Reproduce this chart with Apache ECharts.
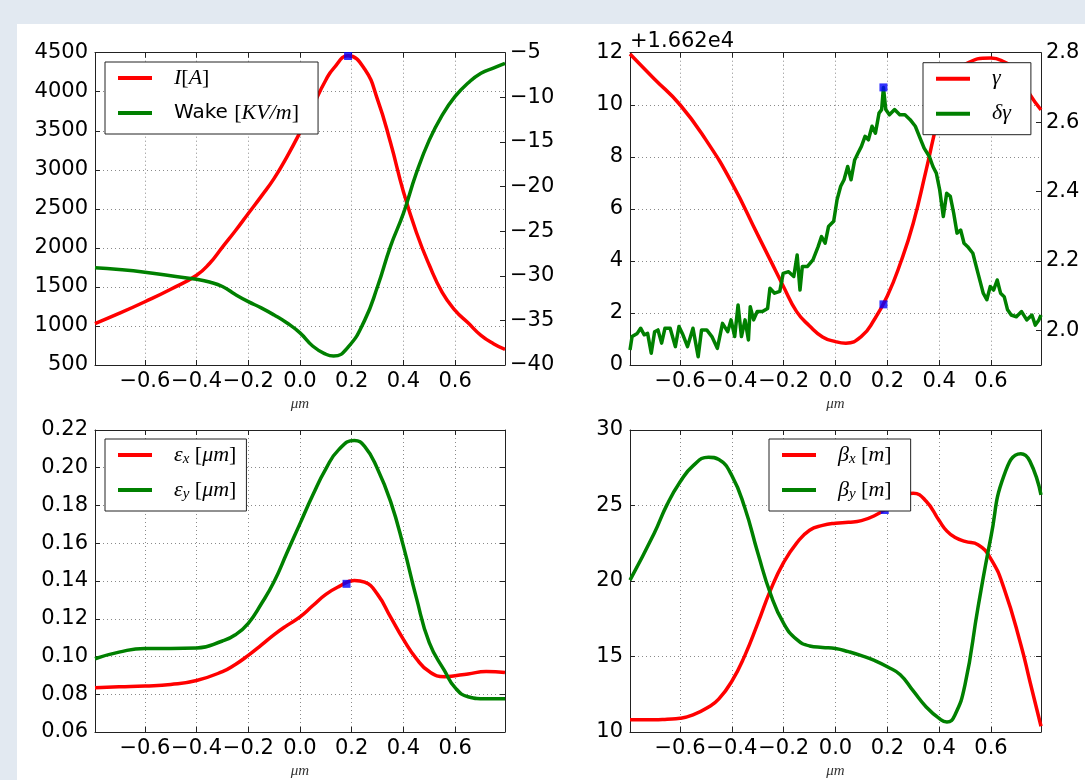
<!DOCTYPE html>
<html><head><meta charset="utf-8">
<script src="https://cdn.jsdelivr.net/npm/echarts@6/dist/echarts.min.js"></script>
<style>
html,body{margin:0;padding:0;background:#e2e9f1;width:1085px;height:780px;overflow:hidden}
#c{position:absolute;left:17px;top:24px;width:1068px;height:756px;background:#fff}
</style></head><body><div id="c"></div>
<script>
// ---------- data ----------
const xTickValues = [-0.6, -0.4, -0.2, 0, 0.2, 0.4, 0.6];
const xRange = [-0.793, 0.793];

// top-left: current & wake
const tlX = [-0.793,-0.7,-0.6,-0.5,-0.4,-0.35,-0.3,-0.25,-0.2,-0.15,-0.1,-0.05,0,0.05,0.1,0.13,0.186,0.25,0.3,0.35,0.4,0.45,0.5,0.55,0.6,0.65,0.7,0.75,0.793];
const currentA = [1030,1160,1310,1470,1650,1800,2010,2220,2440,2660,2890,3170,3480,3820,4150,4300,4460,4290,3900,3350,2720,2200,1780,1430,1200,1040,880,770,700];
const wakeKVm = [-29.1,-29.3,-29.6,-30.0,-30.4,-30.7,-31.2,-32.1,-32.9,-33.6,-34.4,-35.3,-36.4,-37.9,-38.8,-39.0,-38.0,-35.0,-31.2,-26.7,-23.0,-18.5,-14.8,-12.0,-9.9,-8.4,-7.3,-6.7,-6.2];
const tlMarker = [0.186, 4458];

// top-right: gamma (offset from 1.662e4) & delta gamma
const trX = [-0.793,-0.7,-0.6,-0.5,-0.4,-0.3,-0.25,-0.2,-0.15,-0.1,-0.05,0,0.04,0.1,0.15,0.2,0.25,0.3,0.35,0.4,0.45,0.5,0.6,0.65,0.7,0.75,0.793];
const gammaOffset = [11.95,11.0,10.0,8.65,7.0,5.0,4.0,3.0,2.05,1.5,1.08,0.9,0.84,1.1,1.75,2.65,3.9,5.45,7.5,9.6,11.0,11.55,11.8,11.65,11.3,10.4,9.8];
const dgX = [-0.793,-0.785,-0.765,-0.752,-0.738,-0.725,-0.711,-0.698,-0.685,-0.671,
 -0.658,-0.638,-0.618,-0.604,-0.591,-0.571,-0.550,-0.530,-0.517,-0.497,
 -0.477,-0.456,-0.436,-0.416,-0.403,-0.389,-0.376,-0.363,-0.349,-0.336,
 -0.329,-0.316,-0.302,-0.282,-0.262,-0.253,-0.235,-0.215,-0.202,-0.181,
 -0.161,-0.148,-0.137,-0.128,-0.108,-0.087,-0.067,-0.054,-0.040,-0.027,
 -0.007,0.006,0.020,0.033,0.047,0.060,0.074,0.087,0.100,0.114,
 0.127,0.141,0.154,0.168,0.178,0.185,0.194,0.208,0.228,0.248,
 0.268,0.288,0.308,0.329,0.342,0.362,0.376,0.389,0.402,0.416,
 0.429,0.443,0.456,0.469,0.483,0.496,0.510,0.530,0.550,0.570,
 0.584,0.597,0.610,0.624,0.637,0.651,0.664,0.678,0.698,0.718,
 0.738,0.758,0.771,0.785,0.793];
const deltaGamma = [1.943,1.982,1.991,2.006,1.987,1.991,1.934,1.996,2.001,1.963,
 2.006,2.006,1.953,2.011,1.991,1.953,2.006,1.924,2.001,2.001,
 1.982,1.948,2.020,1.996,2.030,1.982,2.073,1.982,2.030,1.972,
 2.068,2.030,2.054,2.054,2.063,2.121,2.107,2.112,2.164,2.169,
 2.155,2.217,2.116,2.184,2.184,2.203,2.241,2.270,2.251,2.299,
 2.314,2.376,2.415,2.434,2.472,2.434,2.491,2.511,2.530,2.559,
 2.549,2.588,2.568,2.626,2.636,2.700,2.636,2.621,2.636,2.621,
 2.621,2.607,2.588,2.549,2.525,2.501,2.472,2.453,2.405,2.328,
 2.395,2.386,2.338,2.280,2.289,2.251,2.241,2.222,2.164,2.107,
 2.088,2.126,2.116,2.145,2.107,2.097,2.059,2.044,2.039,2.054,
 2.030,2.044,2.015,2.030,2.044];
const trMarkerGamma = [0.185, 2.33];
const trMarkerDg = [0.185, 2.70];
const dgTickValues = [2.0, 2.2, 2.4, 2.6, 2.8];

// bottom-left: emittances
const blX = [-0.793,-0.7,-0.6,-0.5,-0.4,-0.3,-0.25,-0.2,-0.15,-0.1,-0.05,0,0.05,0.1,0.15,0.21,0.25,0.3,0.35,0.4,0.45,0.5,0.56,0.6,0.65,0.72,0.793];
const epsX = [0.0835,0.084,0.0844,0.0852,0.0873,0.092,0.0958,0.1006,0.106,0.1116,0.1165,0.121,0.127,0.1329,0.1370,0.1403,0.1394,0.1329,0.121,0.1091,0.0989,0.092,0.0893,0.0898,0.0907,0.0921,0.0915];
const epsY = [0.0988,0.1023,0.1043,0.1043,0.1045,0.1082,0.1115,0.1176,0.1278,0.1397,0.1551,0.1704,0.1857,0.1994,0.2096,0.2145,0.2113,0.1994,0.1823,0.1585,0.1312,0.1074,0.0922,0.0835,0.0787,0.0776,0.0776];
const blMarker = [0.18, 0.1385];

// bottom-right: beta functions
const brX = [-0.793,-0.7,-0.65,-0.6,-0.55,-0.49,-0.45,-0.4,-0.35,-0.3,-0.25,-0.2,-0.15,-0.1,-0.05,0,0.05,0.1,0.15,0.2,0.25,0.3,0.35,0.4,0.43,0.46,0.5,0.55,0.6,0.65,0.715,0.75,0.793];
const betaX = [10.81,10.81,10.85,10.91,11.13,11.65,12.19,13.36,15.06,17.19,19.43,21.23,22.51,23.36,23.68,23.83,23.89,24.0,24.32,24.85,25.6,25.81,25.28,24.0,23.3,22.9,22.62,22.4,21.45,19.53,15.8,13.36,10.38];
const betaY = [20.06,23.15,25.06,26.55,27.62,28.2,28.04,26.98,24.85,21.87,19.11,17.19,16.13,15.7,15.6,15.53,15.32,15.06,14.74,14.32,13.79,12.72,11.66,10.9,10.66,11.1,13.15,18.26,22.94,26.98,28.43,27.94,25.7];
const brMarker = [0.19, 24.7];

// ---------- styling ----------
const FONT = 'DejaVu Sans';
const RED = '#ff0000', GREEN = '#008000', BLUE = '#0000ff';
const AX = '#222';
const minus = s => String(s).replace(/-/g, '\u2212');

const RICH = {
  sp: {width: 17, fontSize: 10, lineHeight: 24},
  t: {fontFamily: FONT, fontSize: 20, color: '#000', lineHeight: 24},
  m: {fontFamily: 'Liberation Serif', fontStyle: 'italic', fontSize: 22, color: '#000', lineHeight: 24},
  r: {fontFamily: 'Liberation Serif', fontSize: 22, color: '#000', lineHeight: 24},
  sub: {fontFamily: 'Liberation Serif', fontStyle: 'italic', fontSize: 15, color: '#000', lineHeight: 14, verticalAlign: 'bottom'}
};
const LABELS = {
  'I': '{sp| }{m|I}{r|[}{m|A}{r|]}',
  'Wake': '{sp| }{t|Wake }{r|[}{m|KV/m}{r|]}',
  'gamma': '{sp| }{m|γ}',
  'dgamma': '{sp| }{m|δγ}',
  'ex': '{sp| }{m|ε}{sub|x}{r| [}{m|μm}{r|]}',
  'ey': '{sp| }{m|ε}{sub|y}{r| [}{m|μm}{r|]}',
  'bx': '{sp| }{m|β}{sub|x}{r| [}{m|m}{r|]}',
  'by': '{sp| }{m|β}{sub|y}{r| [}{m|m}{r|]}'
};

const grids = [
  {left: 78, top: 28.7, width: 410, height: 312.3},
  {left: 613, top: 28.7, width: 411, height: 312.3},
  {left: 78, top: 406, width: 410, height: 313},
  {left: 613, top: 406, width: 411, height: 313}
];

const labelStyle = {fontFamily: FONT, fontSize: 21, color: '#000'};
const axLine = {show: true, onZero: false, lineStyle: {color: AX, width: 1}};
const tick = extra => Object.assign({show: true, inside: true, length: 5, lineStyle: {color: AX, width: 1}}, extra || {});
const grid_split = {show: true, lineStyle: {color: '#8a8a8a', type: [1, 3], width: 1}};

function xAxes(g) {
  return [
    {type: 'value', gridIndex: g, position: 'bottom', min: xRange[0], max: xRange[1],
     name: 'μm', nameLocation: 'middle', nameGap: 32,
     nameTextStyle: {fontFamily: 'Liberation Serif', fontStyle: 'italic', fontSize: 15, color: '#333'},
     axisLine: axLine, axisTick: tick({customValues: xTickValues}),
     axisLabel: Object.assign({customValues: xTickValues, margin: 6, formatter: v => minus(v.toFixed(1))}, labelStyle),
     splitLine: grid_split},
    {type: 'value', gridIndex: g, position: 'top', min: xRange[0], max: xRange[1],
     axisLine: axLine, axisTick: tick({customValues: xTickValues}),
     axisLabel: {show: false}, splitLine: {show: false}}
  ];
}

const option = {
  animation: false,
  backgroundColor: '#fff',
  grid: grids,
  xAxis: [].concat(xAxes(0), xAxes(1), xAxes(2), xAxes(3)),
  yAxis: [
    // TL
    {type: 'value', gridIndex: 0, position: 'left', min: 500, max: 4500, interval: 500,
     axisLine: axLine, axisTick: tick(), axisLabel: Object.assign({margin: 7, formatter: v => String(v)}, labelStyle), splitLine: grid_split},
    {type: 'value', gridIndex: 0, position: 'right', min: -40, max: -5, interval: 5,
     axisLine: axLine, axisTick: tick(), axisLabel: Object.assign({margin: 5, formatter: v => minus(v)}, labelStyle), splitLine: {show: false}},
    // TR
    {type: 'value', gridIndex: 1, position: 'left', min: 0, max: 12, interval: 2,
     name: '+1.662e4', nameLocation: 'end', nameGap: 1,
     nameTextStyle: {fontFamily: FONT, fontSize: 21, color: '#000', align: 'left', verticalAlign: 'bottom'},
     axisLine: axLine, axisTick: tick(), axisLabel: Object.assign({margin: 7, formatter: v => String(v)}, labelStyle), splitLine: grid_split},
    {type: 'value', gridIndex: 1, position: 'right', min: 1.9, max: 2.8,
     axisLine: axLine, axisTick: tick({customValues: dgTickValues}),
     axisLabel: Object.assign({margin: 5, customValues: dgTickValues, formatter: v => v.toFixed(1)}, labelStyle), splitLine: {show: false}},
    // BL
    {type: 'value', gridIndex: 2, position: 'left', min: 0.06, max: 0.22, interval: 0.02,
     axisLine: axLine, axisTick: tick(), axisLabel: Object.assign({margin: 7, formatter: v => v.toFixed(2)}, labelStyle), splitLine: grid_split},
    {type: 'value', gridIndex: 2, position: 'right', min: 0.06, max: 0.22, interval: 0.02,
     axisLine: axLine, axisTick: tick(), axisLabel: {show: false}, splitLine: {show: false}},
    // BR
    {type: 'value', gridIndex: 3, position: 'left', min: 10, max: 30, interval: 5,
     axisLine: axLine, axisTick: tick(), axisLabel: Object.assign({margin: 7, formatter: v => String(v)}, labelStyle), splitLine: grid_split},
    {type: 'value', gridIndex: 3, position: 'right', min: 10, max: 30, interval: 5,
     axisLine: axLine, axisTick: tick(), axisLabel: {show: false}, splitLine: {show: false}}
  ],
  legend: [
    {left: 88, top: 38, data: ['I', 'Wake'], padding: [4, 19, 9, 13]},
    {left: 906, top: 38.7, data: ['gamma', 'dgamma'], padding: [4, 20, 9, 13]},
    {left: 88, top: 415, data: ['ex', 'ey'], padding: [4, 10, 9, 13]},
    {left: 752, top: 415, data: ['bx', 'by'], padding: [4, 19, 9, 13]}
  ].map(l => Object.assign({
    orient: 'vertical', icon: 'rect', itemWidth: 34, itemHeight: 4, itemGap: 11,
    borderColor: '#222', borderWidth: 1, backgroundColor: '#fff',
    selectedMode: false, z: 10,
    formatter: n => LABELS[n], textStyle: {rich: RICH, lineHeight: 24}
  }, l)),
  series: []
};

function line(name, xs, ys, xi, yi, color, smooth) {
  return {type: 'line', name, xAxisIndex: xi, yAxisIndex: yi,
    data: xs.map((x, i) => [x, ys[i]]), smooth: smooth, symbol: 'none', showSymbol: false,
    lineStyle: {color, width: 3.5, join: 'round'}, itemStyle: {color}, z: 2};
}
function marker(pt, xi, yi) {
  return {type: 'scatter', xAxisIndex: xi, yAxisIndex: yi, data: [pt], symbol: 'rect', symbolSize: 8,
    itemStyle: {color: BLUE}, z: 5, silent: true};
}

option.series.push(
  line('I', tlX, currentA, 0, 0, RED, 0.5),
  line('Wake', tlX, wakeKVm, 0, 1, GREEN, 0.5),
  marker(tlMarker, 0, 0),
  line('gamma', trX, gammaOffset, 2, 2, RED, 0.5),
  line('dgamma', dgX, deltaGamma, 2, 3, GREEN, false),
  marker(trMarkerGamma, 2, 2),
  marker(trMarkerDg, 2, 3),
  line('ex', blX, epsX, 4, 4, RED, 0.5),
  line('ey', blX, epsY, 4, 4, GREEN, 0.5),
  marker(blMarker, 4, 4),
  line('bx', brX, betaX, 6, 6, RED, 0.5),
  line('by', brX, betaY, 6, 6, GREEN, 0.5),
  marker(brMarker, 6, 6)
);

const chart = echarts.init(document.getElementById('c'), null, {renderer: 'canvas'});
chart.setOption(option);
</script></body></html>
